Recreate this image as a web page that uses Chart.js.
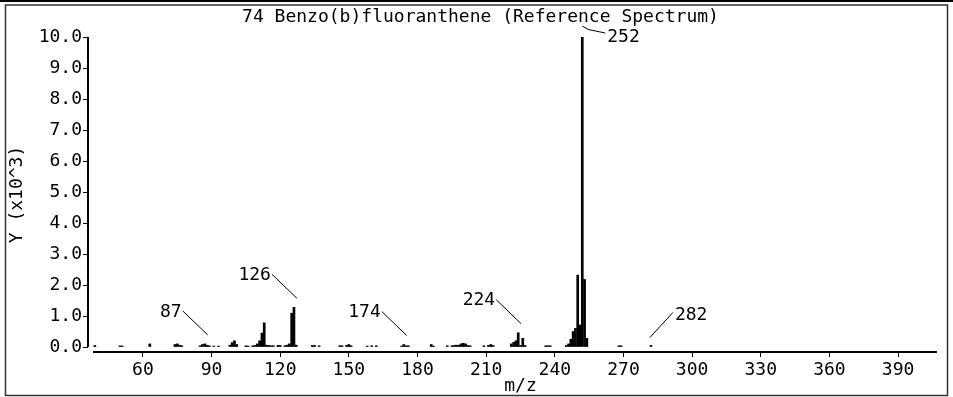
<!DOCTYPE html>
<html>
<head>
<meta charset="utf-8">
<script src="https://cdn.jsdelivr.net/npm/chart.js@4/dist/chart.umd.min.js"></script>
<style>
  html, body { margin: 0; padding: 0; background: #fff; }
  #wrap { width: 953px; height: 397px; }
</style>
</head>
<body>
<div id="wrap"><canvas id="myChart"></canvas></div>
<script>
// peaks (m/z, intensity in units of 10^3)
let mz = [39, 50, 51, 63, 74, 75, 76, 77, 85, 86, 87, 88, 89, 91, 93,
  98, 99, 100, 101, 105, 106, 108, 109, 110, 111, 112, 113, 114, 115, 116,
  117, 119, 120, 122, 123, 124, 125, 126, 127, 134, 135, 137, 146, 147, 149,
  150, 151, 158, 160, 162, 173, 174, 175, 176, 186, 187, 193, 195, 196, 197,
  198, 199, 200, 201, 202, 203, 209, 211, 212, 213, 221, 222, 223, 224, 225,
  226, 227, 236, 237, 238, 245, 246, 247, 248, 249, 250, 251, 252, 253, 254,
  268, 269, 282];
let intensity = [0.05, 0.04, 0.03, 0.1, 0.08, 0.1, 0.06, 0.04, 0.04, 0.08, 0.1, 0.06, 0.04, 0.03, 0.03,
  0.06, 0.14, 0.2, 0.08, 0.04, 0.03, 0.04, 0.05, 0.1, 0.2, 0.45, 0.78, 0.06, 0.05, 0.04,
  0.04, 0.05, 0.05, 0.04, 0.06, 0.1, 1.09, 1.28, 0.06, 0.05, 0.05, 0.04, 0.04, 0.04, 0.05,
  0.08, 0.04, 0.03, 0.04, 0.04, 0.03, 0.08, 0.04, 0.04, 0.08, 0.03, 0.04, 0.04, 0.05, 0.06,
  0.06, 0.1, 0.12, 0.1, 0.05, 0.04, 0.04, 0.05, 0.08, 0.05, 0.1, 0.15, 0.2, 0.46, 0.05,
  0.28, 0.05, 0.04, 0.04, 0.04, 0.05, 0.1, 0.25, 0.5, 0.6, 2.32, 0.71, 10.0, 2.18, 0.28,
  0.04, 0.04, 0.05];
let labelled = [87, 126, 174, 224, 252, 282];
let xTicks = [60, 90, 120, 150, 180, 210, 240, 270, 300, 330, 360, 390];
let yTicks = [0, 1, 2, 3, 4, 5, 6, 7, 8, 9, 10];

const mono = { family: 'DejaVu Sans Mono', size: 18, weight: 'normal', lineHeight: 1 };

// frame, axis lines and the peak labels with their leader lines
const extras = {
  id: 'extras',
  afterDraw(chart) {
    const ctx = chart.ctx;
    const x = chart.scales.x, y = chart.scales.y;
    const area = chart.chartArea;
    ctx.save();
    ctx.strokeStyle = '#000';
    ctx.lineWidth = 2;
    ctx.beginPath(); ctx.moveTo(0, 1); ctx.lineTo(953, 1); ctx.stroke();
    ctx.strokeStyle = '#333';
    ctx.lineWidth = 1.5;
    ctx.strokeRect(5.5, 5, 942, 390.5);

    ctx.strokeStyle = '#000';
    ctx.lineWidth = 2;
    ctx.beginPath();
    ctx.moveTo(area.left, y.getPixelForValue(10));
    ctx.lineTo(area.left, y.getPixelForValue(0));
    ctx.moveTo(area.left + 5, area.bottom);
    ctx.lineTo(x.getPixelForValue(407), area.bottom);
    ctx.stroke();

    ctx.lineWidth = 1;
    ctx.fillStyle = '#000';
    ctx.font = '18px "DejaVu Sans Mono"';
    ctx.textBaseline = 'middle';
    const maxVal = Math.max(...intensity);
    labelled.forEach((m, n) => {
      const i = mz.indexOf(m);
      const px = x.getPixelForValue(m);
      const top = y.getPixelForValue(intensity[i]);
      ctx.beginPath();
      if (intensity[i] === maxVal) {
        ctx.moveTo(px, top - 11);
        ctx.lineTo(px + 6, top - 7.5);
        ctx.lineTo(px + 23, top - 4);
        ctx.stroke();
        ctx.textAlign = 'left';
        ctx.fillText(String(m), px + 25, top);
      } else if (n === labelled.length - 1) {
        ctx.moveTo(px - 1, top - 8);
        ctx.lineTo(px + 22, top - 33);
        ctx.stroke();
        ctx.textAlign = 'left';
        ctx.fillText(String(m), px + 24, top - 30);
      } else {
        ctx.moveTo(px + 3, top - 9);
        ctx.lineTo(px - 22, top - 33);
        ctx.stroke();
        ctx.textAlign = 'right';
        ctx.fillText(String(m), px - 23, top - 32);
      }
    });
    ctx.restore();
  }
};

let ctx = document.getElementById('myChart');

let myChart = new Chart(ctx, {
  type: 'bar',
  data: {
    datasets: [{
      label: 'Benzo(b)fluoranthene',
      data: mz.map((m, i) => ({ x: m, y: intensity[i] })),
      backgroundColor: '#000',
      borderWidth: 0,
      barThickness: 2
    }]
  },
  options: {
    responsive: true,
    maintainAspectRatio: false,
    animation: false,
    devicePixelRatio: 1,
    layout: { padding: { left: 8, right: 0, top: 0, bottom: 0 } },
    plugins: {
      legend: { display: false },
      tooltip: { enabled: false },
      title: {
        display: true,
        text: '74 Benzo(b)fluoranthene (Reference Spectrum)',
        color: '#000',
        font: mono,
        padding: { top: 8, bottom: 11 }
      }
    },
    scales: {
      x: {
        type: 'linear',
        offset: false,
        min: 36,
        max: 414,
        afterBuildTicks: (s) => { s.ticks = xTicks.map(v => ({ value: v })); },
        afterFit: (s) => { s.height = 45; },
        ticks: { color: '#000', font: mono, padding: 4, maxRotation: 0, autoSkip: false },
        grid: { offset: false, drawOnChartArea: false, drawTicks: true, tickLength: 5, color: '#000', lineWidth: 1 },
        border: { display: false },
        title: { display: true, text: 'm/z', color: '#000', font: mono, padding: { top: 0, bottom: 2 } }
      },
      y: {
        min: -0.161,
        max: 10,
        afterBuildTicks: (s) => { s.ticks = yTicks.map(v => ({ value: v })); },
        afterFit: (s) => { s.width = 80; },
        ticks: { color: '#000', font: mono, padding: 1, callback: (v) => v.toFixed(1) },
        grid: { drawOnChartArea: false, drawTicks: true, tickLength: 5, color: '#000', lineWidth: 1 },
        border: { display: false },
        title: { display: true, text: 'Y (x10^3)', color: '#000', font: mono, padding: { top: 0, bottom: 0 } }
      }
    }
  },
  plugins: [extras]
});
</script>
</body>
</html>
